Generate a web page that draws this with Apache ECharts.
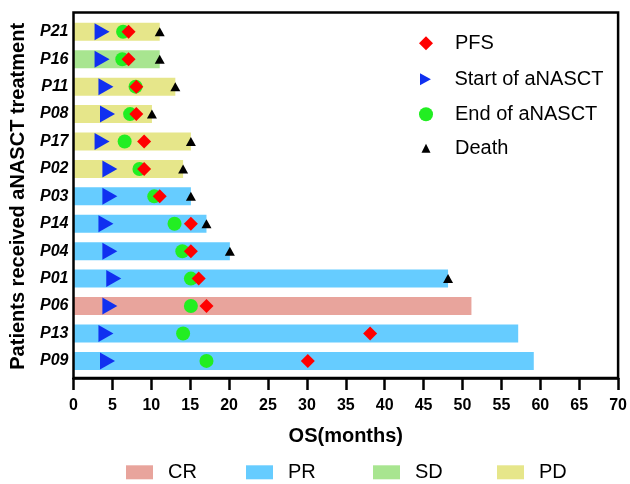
<!DOCTYPE html>
<html>
<head>
<meta charset="utf-8">
<script src="https://cdn.jsdelivr.net/npm/echarts@6/dist/echarts.min.js"></script>
<style>html,body{margin:0;padding:0;background:#fff}#c{width:630px;height:484px}</style>
</head>
<body>
<div id="c"></div>
<script>
const patients = ['P21','P16','P11','P08','P17','P02','P03','P14','P04','P01','P06','P13','P09'];
const response = ['PD','SD','PD','PD','PD','PD','PR','PR','PR','PR','CR','PR','PR'];
const osMonths = [11, 11, 13, 10, 15, 14, 15, 17, 20, 48, 51, 57, 59];
const startT = [3.6, 3.6, 4.1, 4.3, 3.6, 4.6, 4.6, 4.1, 4.6, 5.1, 4.6, 4.1, 4.3];
const endT = [6.3, 6.2, 7.9, 7.2, 6.5, 8.4, 10.3, 12.9, 13.9, 15, 15, 14, 17];
const pfs = [7, 7, 8, 8, 9, 9, 11, 15, 15, 16, 17, 38, 30];
const death = [11, 11, 13, 10, 15, 14, 15, 17, 20, 48, null, null, null];
const classes = ['CR','PR','SD','PD'];
const classColors = {CR:'#E8A49C', PR:'#66CCFF', SD:'#A8E590', PD:'#E6E68A'};
const xTicks = {min:0, max:70, interval:5};

const FONT = 'Liberation Sans, Arial, sans-serif';
const chart = echarts.init(document.getElementById('c'), null, {renderer:'canvas'});

const barSeries = classes.map(cls => ({
  name: cls, type: 'bar', xAxisIndex: 1, yAxisIndex: 1,
  barWidth: 18, barGap: '-100%', z: 2,
  itemStyle: {color: classColors[cls]},
  data: response.map((r, i) => r === cls ? osMonths[i] : '-')
}));

function pts(arr){ return arr.map((v,i)=> v==null ? null : [v, patients[i]]).filter(d=>d); }

const scatter = [
  {name:'End of aNASCT', type:'scatter', xAxisIndex:1, yAxisIndex:1, z:3, symbol:'circle', symbolSize:14,
   itemStyle:{color:'#22EE22', opacity:1}, data: pts(endT)},
  {name:'PFS', type:'scatter', xAxisIndex:1, yAxisIndex:1, z:4, symbol:'diamond', symbolSize:14,
   itemStyle:{color:'#FF0000', opacity:1}, data: pts(pfs)},
  {name:'Start of aNASCT', type:'scatter', xAxisIndex:1, yAxisIndex:1, z:4, symbol:'triangle', symbolSize:[17,15], symbolRotate:-90,
   itemStyle:{color:'#1030F0', opacity:1}, data: pts(startT)},
  {name:'Death', type:'scatter', xAxisIndex:1, yAxisIndex:1, z:5, symbol:'triangle', symbolSize:[10,9],
   itemStyle:{color:'#000000', opacity:1}, data: pts(death)}
];

function topLegend(name, size, centerY, icon){
  const item = {name:name};
  if (icon) item.icon = icon;
  return {
    data:[item], orient:'vertical', left: 426 - size/2, top: centerY - 10, padding:0,
    itemWidth:size, itemHeight:size, selectedMode:false,
    textStyle:{fontFamily:FONT, fontSize:20, color:'#000', lineHeight:20, padding:[0,0,0,455-(426+size/2)-5]}
  };
}
function botLegend(name, left){
  return {
    data:[{name:name, icon:'rect'}], left:left, top:461.3, padding:0,
    itemWidth:27, itemHeight:14, selectedMode:false,
    textStyle:{fontFamily:FONT, fontSize:20, color:'#000', lineHeight:22, padding:[0,0,0,10]}
  };
}

const option = {
  animation:false,
  backgroundColor:'#fff',
  legend:[
    topLegend('PFS', 14, 43.3),
    topLegend('Start of aNASCT', 12, 79.3, 'path://M0,0L10,5.5L0,11Z'),
    topLegend('End of aNASCT', 14, 114.3),
    topLegend('Death', 9, 148.3),
    botLegend('CR', 126), botLegend('PR', 246), botLegend('SD', 373), botLegend('PD', 497)
  ],
  grid:[
    {left:73.5, top:12.5, width:546, height:365.5, show:true, borderColor:'#000', borderWidth:2.5, backgroundColor:'transparent', z:10},
    {left:73.5, top:18.1, width:546, height:356.5}
  ],
  xAxis:[
    {gridIndex:0, type:'value', min:xTicks.min, max:xTicks.max, interval:xTicks.interval,
     axisLine:{show:true, lineStyle:{color:'#000', width:2.5}},
     axisTick:{show:true, length:12, lineStyle:{color:'#000', width:2.5}},
     axisLabel:{margin:20, fontFamily:FONT, fontSize:16, fontWeight:'bold', color:'#000'},
     splitLine:{show:false},
     name:'OS(months)', nameLocation:'middle', nameGap:48.7,
     nameTextStyle:{fontFamily:FONT, fontSize:20, fontWeight:'bold', color:'#000'}, z:10},
    {gridIndex:1, type:'value', min:xTicks.min, max:xTicks.max, show:false}
  ],
  yAxis:[
    {gridIndex:0, type:'value', show:false, min:0, max:1},
    {gridIndex:1, type:'category', data:patients, inverse:true,
     axisLine:{show:false}, axisTick:{show:false},
     axisLabel:{margin:5.5, fontFamily:FONT, fontSize:16, fontWeight:'bold', fontStyle:'italic', color:'#000'},
     name:'Patients received aNASCT treatment', nameLocation:'middle', nameGap:46, nameRotate:90,
     nameTextStyle:{fontFamily:FONT, fontSize:20, fontWeight:'bold', color:'#000'}}
  ],
  series: barSeries.concat(scatter)
};
chart.setOption(option);
</script>
</body>
</html>
